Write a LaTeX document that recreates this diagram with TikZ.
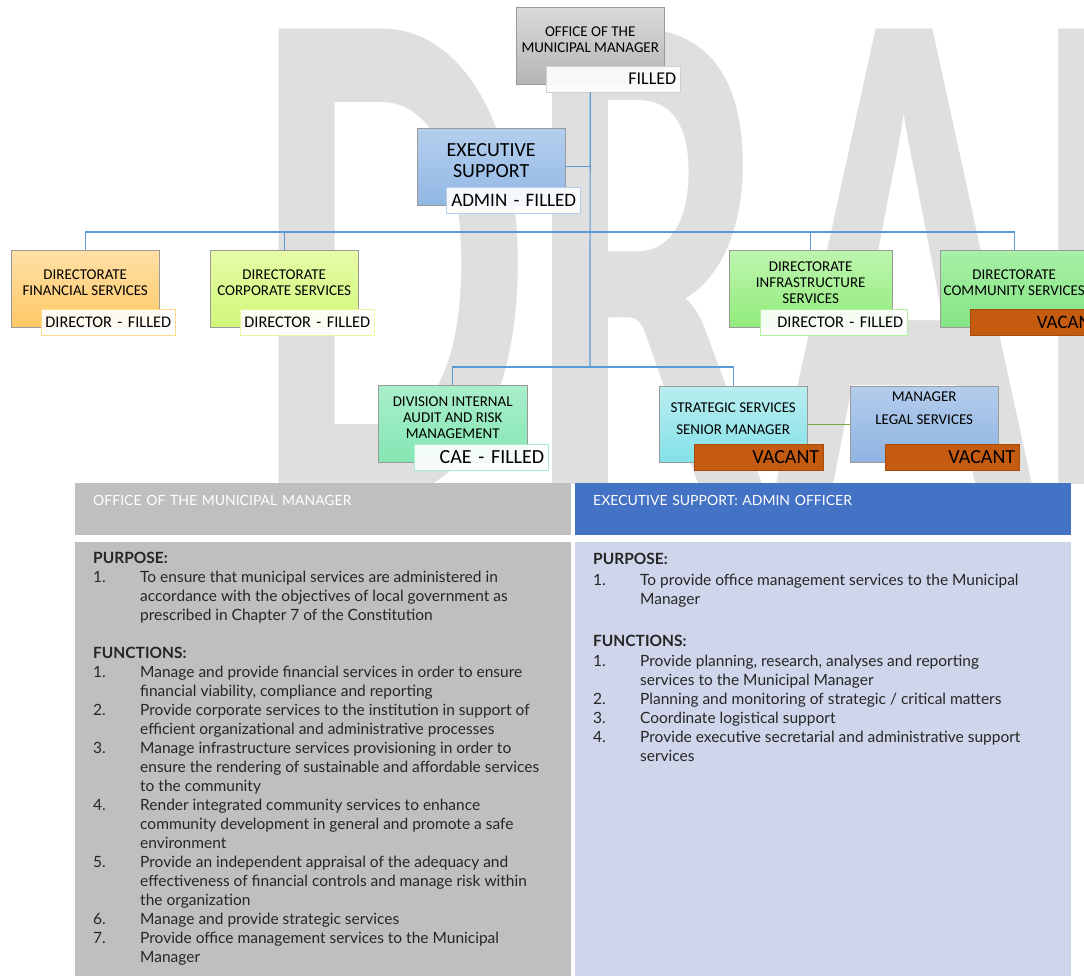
\documentclass[tikz,border=0pt]{standalone}
\usepackage{fontspec}
\setmainfont{Carlito}
\newfontfamily\bodyfont{Lato}
\usepackage{tikz}

\definecolor{edge}{HTML}{9A9A9A}
\definecolor{link}{HTML}{5B9BD5}
\definecolor{peer}{HTML}{70AD47}
\definecolor{vacfill}{HTML}{C55A11}
\definecolor{vacedge}{HTML}{A84C0E}
\definecolor{ink}{HTML}{262626}
\definecolor{mmhead}{HTML}{BFBFBF}
\definecolor{eshead}{HTML}{4472C4}
\definecolor{espane}{HTML}{CFD5EA}
\definecolor{mmtop}{HTML}{D9D9D9}\definecolor{mmbot}{HTML}{B5B5B5}\definecolor{mmline}{HTML}{D0D0D0}
\definecolor{estop}{HTML}{B4CFEE}\definecolor{esbot}{HTML}{92B7E4}\definecolor{esline}{HTML}{B4CFEE}
\definecolor{fintop}{HTML}{FFE0A6}\definecolor{finbot}{HTML}{FFC866}\definecolor{finline}{HTML}{FFD98C}
\definecolor{cortop}{HTML}{E6FBA6}\definecolor{corbot}{HTML}{D2F77A}\definecolor{corline}{HTML}{E6F99C}
\definecolor{inftop}{HTML}{BDF5AE}\definecolor{infbot}{HTML}{92EC7C}\definecolor{infline}{HTML}{B0F19C}
\definecolor{comtop}{HTML}{A8F0A6}\definecolor{combot}{HTML}{84E484}
\definecolor{audtop}{HTML}{A9EFCB}\definecolor{audbot}{HTML}{84E6B2}\definecolor{audline}{HTML}{A8EEC8}
\definecolor{strtop}{HTML}{B9EEF0}\definecolor{strbot}{HTML}{84E0E8}
\definecolor{legtop}{HTML}{B4CDEC}\definecolor{legbot}{HTML}{8FB3E2}

\newcommand{\itemno}[1]{\makebox[47pt][l]{#1}}
\newcommand{\itemgap}{\hspace*{47pt}}

\begin{document}
\begin{tikzpicture}[x=1pt, y=-1pt,
    unit/.style 2 args={draw=edge, top color=#1, bottom color=#2, anchor=north west,
        minimum width=148pt, minimum height=77pt, inner sep=2pt, align=center,
        font=\fontsize{15}{16}\selectfont,
        execute at end node={\vrule width 0pt height 0pt depth 12pt}},
    tag/.style={draw=#1, fill=white, fill opacity=.9, text opacity=1, anchor=south east,
        minimum height=26pt, inner xsep=4pt, inner ysep=0pt, text width=126pt, align=right,
        font=\fontsize{18}{18}\selectfont},
    vacant/.style={tag=vacedge, fill=vacfill, fill opacity=1, font=\fontsize{20}{20}\selectfont},
    wire/.style={draw=link, line width=1.2pt},
    head/.style={anchor=north west, minimum width=496pt, text width=460pt, inner xsep=18pt,
        inner ysep=0pt, text height=22pt, text depth=30pt, align=left, text=white,
        font=\bodyfont\fontsize{14}{16}\selectfont},
    pane/.style={anchor=north west, minimum width=496pt, minimum height=440pt, inner sep=0pt},
    body/.style={anchor=north west, align=left, inner sep=0pt, text=ink,
        font=\bodyfont\fontsize{15.5}{19}\selectfont}]

\useasboundingbox (0,0) rectangle (1084,976);

\begin{scope}
    \clip (0,0) rectangle (1084,483);
    \node[anchor=base west, inner sep=0pt, xscale=.6, transform shape, text=gray!25,
        font=\bfseries\fontsize{724}{724}\selectfont] (draft) at (254,498) {DRAFT};
\end{scope}

\node[unit={mmtop}{mmbot}] (mm) at (516,7) {OFFICE OF THE\\MUNICIPAL MANAGER};
\node[tag=mmline] (mmtag) at ([shift={(16,8)}]mm.south east) {FILLED};

\node[unit={estop}{esbot}, font=\fontsize{20}{21}\selectfont] (es) at (417,128) {EXECUTIVE\\SUPPORT};
\node[tag=esline, font=\fontsize{19}{19}\selectfont] (estag) at ([shift={(15,8)}]es.south east) {ADMIN - FILLED};

\node[unit={fintop}{finbot}] (fin) at (11,250) {DIRECTORATE\\FINANCIAL SERVICES};
\node[tag=finline, font=\fontsize{16.3}{17}\selectfont] (fintag) at ([shift={(16,8)}]fin.south east) {DIRECTOR - FILLED};

\node[unit={cortop}{corbot}] (cor) at (210,250) {DIRECTORATE\\CORPORATE SERVICES};
\node[tag=corline, font=\fontsize{16.3}{17}\selectfont] (cortag) at ([shift={(16,8)}]cor.south east) {DIRECTOR - FILLED};

\node[unit={inftop}{infbot}, minimum width=163pt] (inf) at (729,250) {DIRECTORATE\\INFRASTRUCTURE\\SERVICES};
\node[tag=infline, text width=139pt, font=\fontsize{16.3}{17}\selectfont] (inftag) at ([shift={(15,8)}]inf.south east) {DIRECTOR - FILLED};

\node[unit={comtop}{combot}] (com) at (940,250) {DIRECTORATE\\COMMUNITY SERVICES};
\node[vacant, font=\fontsize{19}{19}\selectfont] (comtag) at ([shift={(16,8)}]com.south east) {VACANT};

\node[unit={audtop}{audbot}, minimum width=149pt] (aud) at (378,385) {DIVISION INTERNAL\\AUDIT AND RISK\\MANAGEMENT};
\node[tag=audline, font=\fontsize{20}{20}\selectfont] (audtag) at ([shift={(21,8)}]aud.south east) {CAE - FILLED};

\node[unit={strtop}{strbot}, minimum height=76pt] (str) at (659,386) {STRATEGIC SERVICES\\[6pt]SENIOR MANAGER};
\node[vacant, text width=121pt] (strtag) at ([shift={(16,8)}]str.south east) {VACANT};

\node[unit={legtop}{legbot}, minimum height=76pt] (leg) at (850,386) {MANAGER\\[7pt]LEGAL SERVICES\\[4pt]};
\node[vacant] (legtag) at ([shift={(21,8)}]leg.south east) {VACANT};

\coordinate (bus) at (590,232);
\coordinate (lowbus) at (590,367);

\draw[wire] (mm.south |- mmtag.south) -- (lowbus);
\draw[wire] (es.east) -- (es.east -| lowbus);
\draw[wire] (fin.north) |- (com.north |- bus) -- (com.north);
\draw[wire] (cor.north) -- (cor.north |- bus);
\draw[wire] (inf.north) -- (inf.north |- bus);
\draw[wire] (aud.north) |- (str.north |- lowbus) -- (str.north);
\draw[draw=peer, line width=1pt] (str.east) -- (leg.west);

\node[head, fill=mmhead] (mmhd) at (75,483) {OFFICE OF THE MUNICIPAL MANAGER};
\node[head, fill=eshead] (eshd) at (575,483) {EXECUTIVE SUPPORT: ADMIN OFFICER};

\node[pane, fill=mmhead] (mmpane) at (75,542) {};
\node[pane, fill=espane] (espane) at (575,542) {};

\node[body] (mmtext) at ([shift={(18,10)}]mmpane.north west) {%
\textbf{PURPOSE:}\\
\itemno{1.}To ensure that municipal services are administered in\\
\itemgap accordance with the  objectives of local government as\\
\itemgap prescribed in Chapter 7 of the Constitution\\[19pt]
\textbf{FUNCTIONS:}\\
\itemno{1.}Manage and provide financial services in order to ensure\\
\itemgap financial viability,  compliance and reporting\\
\itemno{2.}Provide corporate services to the institution in support of\\
\itemgap efficient organizational and  administrative processes\\
\itemno{3.}Manage infrastructure services provisioning in order to\\
\itemgap ensure the rendering of  sustainable and affordable services\\
\itemgap to the community\\
\itemno{4.}Render integrated community services to enhance\\
\itemgap community development in  general and promote a safe\\
\itemgap environment\\
\itemno{5.}Provide an independent appraisal of the adequacy and\\
\itemgap effectiveness of financial  controls and manage risk within\\
\itemgap the organization\\
\itemno{6.}Manage and provide strategic services\\
\itemno{7.}Provide office management services to the Municipal\\
\itemgap Manager};

\node[body] (estext) at ([shift={(18,11)}]espane.north west) {%
\textbf{PURPOSE:}\\[2pt]
\itemno{1.}To provide office management services to the  Municipal\\
\itemgap Manager\\[23pt]
\textbf{FUNCTIONS:}\\[1pt]
\itemno{1.}Provide planning, research, analyses and reporting\\
\itemgap services to the Municipal Manager\\
\itemno{2.}Planning and monitoring of strategic / critical matters\\
\itemno{3.}Coordinate logistical support\\
\itemno{4.}Provide executive secretarial and administrative support\\
\itemgap services};
\end{tikzpicture}
\end{document}
